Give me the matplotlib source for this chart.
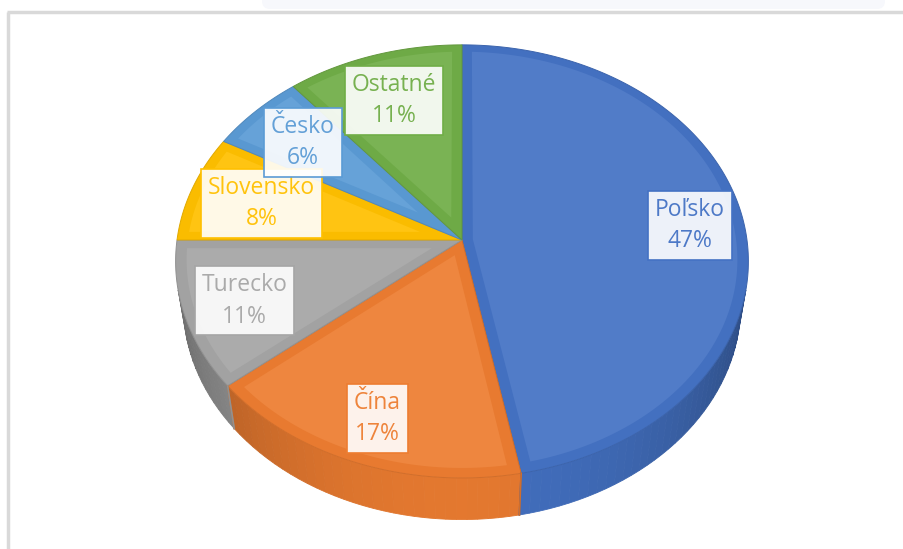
import numpy as np
import matplotlib.pyplot as plt
from matplotlib.patches import Polygon, FancyBboxPatch
import matplotlib.colors as mcolors

# data
countries = ['Poľsko', 'Čína', 'Turecko', 'Slovensko', 'Česko', 'Ostatné']
shares = [47, 17, 11, 8, 6, 11]
colors = ['#4472C4', '#ED7D31', '#A5A5A5', '#FFC000', '#5B9BD5', '#70AD47']
label_r = [0.81, 0.81, 0.79, 0.74, 0.76, 0.75]

plt.rcParams['font.family'] = ['Open Sans', 'DejaVu Sans']

# 3D view (pixel space)
cx, cy = 462, 240
f, D = 1898, 6.66
elev = np.radians(48.8)
h = 0.24


def project(X, Y, Z=0.0):
    dep = D + Y * np.cos(elev) - Z * np.sin(elev)
    yc = Y * np.sin(elev) + Z * np.cos(elev)
    return cx + f * X / dep, cy - f * yc / dep


def shade(c, k):
    r, g, b = mcolors.to_rgb(c)
    return (r * k, g * k, b * k)


def tint(c, k):
    r, g, b = mcolors.to_rgb(c)
    return (r + (1 - r) * k, g + (1 - g) * k, b + (1 - b) * k)


def arc(t1, t2, r=1.0, z=0.0, n=None):
    n = n or max(int(abs(t2 - t1) / np.radians(1)) + 2, 3)
    t = np.linspace(t1, t2, n)
    return project(r * np.sin(t), r * np.cos(t), z)


fig = plt.figure(figsize=(9.04, 5.49), dpi=100)
ax = fig.add_axes([0, 0, 1, 1])
ax.set_xlim(0, 904)
ax.set_ylim(549, 0)
ax.axis('off')

# window frame
ax.add_patch(FancyBboxPatch((262, -20), 623, 29, boxstyle='round,pad=0,rounding_size=8',
                            fc='#F7F8FC', ec='none'))
ax.plot([7, 904], [12, 12], color='#D9D9D9', lw=2.5, solid_capstyle='butt')
ax.plot([8.5, 8.5], [12, 549], color='#D9D9D9', lw=2.5, solid_capstyle='butt')

fracs = np.array(shares) / sum(shares)
bounds = np.concatenate([[0], np.cumsum(fracs)]) * 2 * np.pi

# visible part of the side wall
t_vis = np.arccos(-1 / (D * np.cos(elev)))
vis_lo, vis_hi = t_vis, 2 * np.pi - t_vis

# side walls
for i, c in enumerate(colors):
    a, b = max(bounds[i], vis_lo), min(bounds[i + 1], vis_hi)
    if a >= b:
        continue
    ts = np.linspace(a, b, max(int((b - a) / np.radians(2)) + 2, 2))
    for t1, t2 in zip(ts[:-1], ts[1:]):
        tm = 0.5 * (t1 + t2)
        k = 0.64 + 0.32 * (-np.cos(tm)) ** 1.5
        xt, yt = arc(t1, t2, n=3)
        xb, yb = arc(t2, t1, z=-h, n=3)
        col = shade(c, k)
        ax.add_patch(Polygon(np.column_stack([np.r_[xt, xb], np.r_[yt, yb]]),
                             closed=True, fc=col, ec=col, lw=0.6))
    for t in (bounds[i], bounds[i + 1]):
        if vis_lo < t < vis_hi:
            x0, y0 = project(np.sin(t), np.cos(t), 0)
            x1, y1 = project(np.sin(t), np.cos(t), -h)
            ax.plot([x0, x1], [y0, y1], color=shade(c, 0.88), lw=1.2)

# top faces with a soft bevel
delta = 0.038
for i, c in enumerate(colors):
    t1, t2 = bounds[i], bounds[i + 1]
    xa, ya = arc(t1, t2)
    x0, y0 = project(0, 0)
    ax.add_patch(Polygon(np.column_stack([np.r_[x0, xa], np.r_[y0, ya]]),
                         closed=True, fc=shade(c, 0.98), ec=shade(c, 0.88), lw=0.7))
    half = 0.5 * (t2 - t1)
    rin = 1 - delta
    d_ap = delta / np.sin(min(half, np.pi / 2))
    tm = 0.5 * (t1 + t2)
    off = np.arcsin(delta / rin)
    xi, yi = arc(t1 + off, t2 - off, r=rin)
    xp, yp = project(d_ap * np.sin(tm), d_ap * np.cos(tm))
    ax.add_patch(Polygon(np.column_stack([np.r_[xp, xi], np.r_[yp, yi]]),
                         closed=True, fc=tint(c, 0.07), ec='none'))

# labels
for i, (name, c) in enumerate(zip(countries, colors)):
    tm = 0.5 * (bounds[i] + bounds[i + 1])
    lx, ly = project(label_r[i] * np.sin(tm), label_r[i] * np.cos(tm))
    ax.text(lx, ly + 2, f'{name}\n{shares[i]:.0f}%', ha='center', va='center',
            fontsize=16.5, color=tint(c, 0.05), linespacing=1.4,
            bbox=dict(boxstyle='square,pad=0.3', fc=(1, 1, 1, 0.9), ec=c, lw=1.2))

fig.savefig('out.png', dpi=100)
